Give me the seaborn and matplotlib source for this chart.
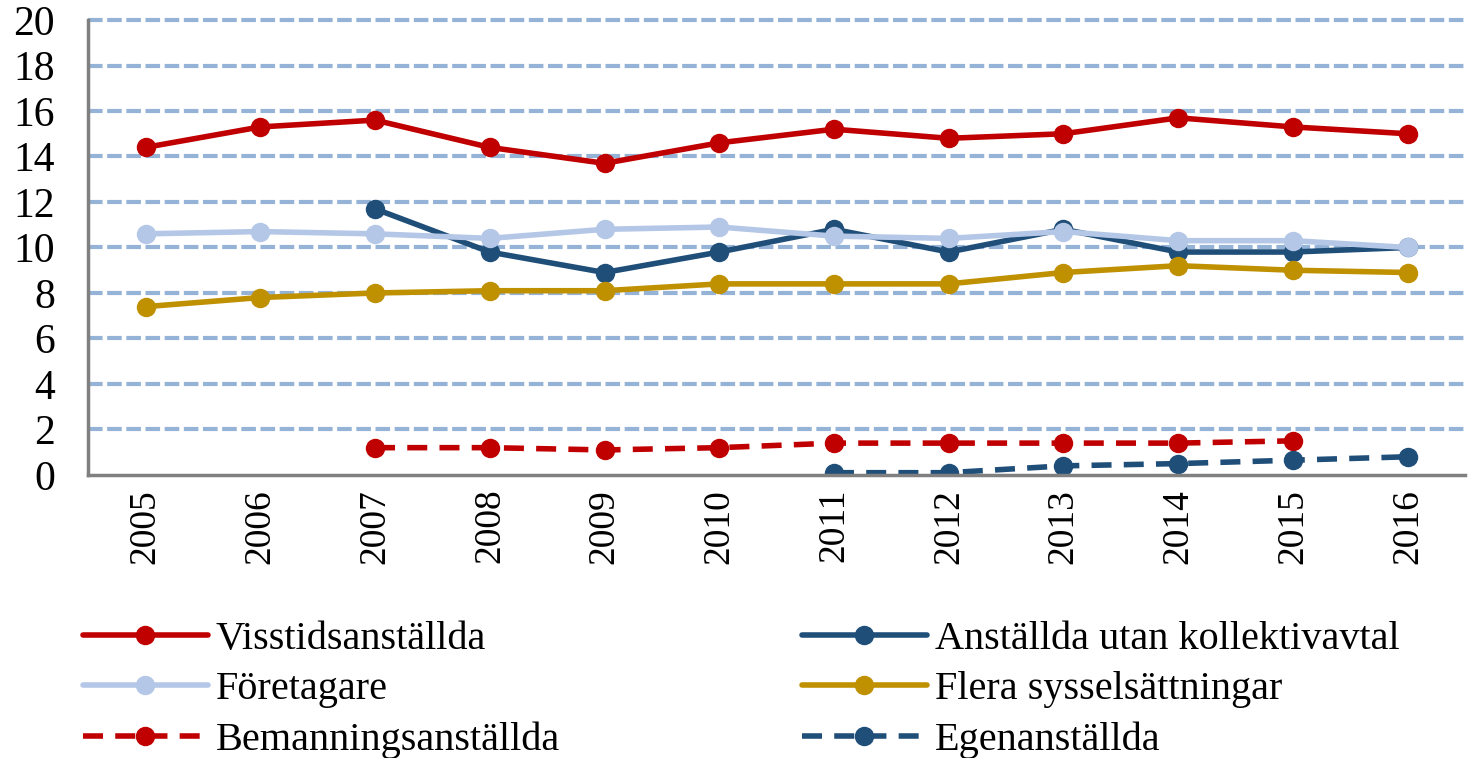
import numpy as np
import pandas as pd
import matplotlib.pyplot as plt
import seaborn as sns

years = list(range(2005, 2017))

visstid = [14.4, 15.3, 15.6, 14.4, 13.7, 14.6, 15.2, 14.8, 15.0, 15.7, 15.3, 15.0]
foretagare = [10.6, 10.7, 10.6, 10.4, 10.8, 10.9, 10.5, 10.4, 10.7, 10.3, 10.3, 10.0]
bemanning = [np.nan, np.nan, 1.2, 1.2, 1.1, 1.2, 1.4, 1.4, 1.4, 1.4, 1.5, np.nan]
utan_avtal = [np.nan, np.nan, 11.7, 9.8, 8.9, 9.8, 10.8, 9.8, 10.8, 9.8, 9.8, 10.0]
flera = [7.4, 7.8, 8.0, 8.1, 8.1, 8.4, 8.4, 8.4, 8.9, 9.2, 9.0, 8.9]
egen = [np.nan, np.nan, np.nan, np.nan, np.nan, np.nan, 0.1, 0.1, 0.4, 0.5, 0.65, 0.8]

series = [
    ("Visstidsanställda", visstid, "#C00000", False),
    ("Företagare", foretagare, "#B4C7E7", False),
    ("Bemanningsanställda", bemanning, "#C00000", True),
    ("Anställda utan kollektivavtal", utan_avtal, "#1F4E79", False),
    ("Flera sysselsättningar", flera, "#BF9000", False),
    ("Egenanställda", egen, "#1F4E79", True),
]

sns.set_style("white")
plt.rcParams['font.family'] = ['Liberation Serif', 'DejaVu Serif']
plt.rcParams['text.color'] = 'black'
plt.rcParams['xtick.color'] = 'black'
plt.rcParams['ytick.color'] = 'black'

fig = plt.figure(figsize=(14.7, 7.58), dpi=100)
ax = fig.add_axes([0.06, 0.3734, 0.9366, 0.6002])

# dark blue first so the light blue line sits on top, like the original
draw_order = [3, 1, 4, 0, 2, 5]
lines = {}
for i in draw_order:
    name, vals, col, dashed = series[i]
    df = pd.DataFrame({"year": years, "value": vals}).dropna()
    sns.lineplot(data=df, x="year", y="value", ax=ax, color=col, lw=4,
                 marker="o", markersize=14, markeredgewidth=0, label=name,
                 legend=False)
    ln = ax.lines[-1]
    if dashed:
        ln.set_dashes((3.6, 2.2))
    lines[name] = ln

ax.set_xlim(2004.5, 2016.5)
ax.set_ylim(0, 20)
ax.set_yticks(range(0, 21, 2))
ax.set_xticks(years)
ax.set_xticklabels([str(y) for y in years], rotation=90)
ax.set_xticks(np.arange(2004.5, 2017, 1), minor=True)
ax.tick_params(axis='x', which='major', length=0, pad=10, labelsize=27)
ax.tick_params(axis='x', which='minor', length=14, width=2.5, color="#808080", direction='out')
ax.tick_params(axis='y', length=10, width=2.5, color="#808080", labelcolor='black',
               direction='out', labelsize=30, pad=14)
ax.set_xlabel("")
ax.set_ylabel("")

for y in range(2, 21, 2):
    ax.axhline(y, color="#95B3D7", lw=3, dashes=(3.5, 1.1), zorder=0, clip_on=False)

for s in ["top", "right"]:
    ax.spines[s].set_visible(False)
for s in ["left", "bottom"]:
    ax.spines[s].set_color("#808080")
    ax.spines[s].set_linewidth(2.5)

handles = [lines[s[0]] for s in series]
labels = [s[0] for s in series]
fig.legend(handles, labels, ncol=2, loc="lower left", bbox_to_anchor=(0.04, -0.033),
           frameon=False, fontsize=29, handlelength=3.1, handletextpad=0.2,
           columnspacing=6.0, labelspacing=0.32, borderaxespad=0.2)

fig.savefig("out.png", dpi=100)
